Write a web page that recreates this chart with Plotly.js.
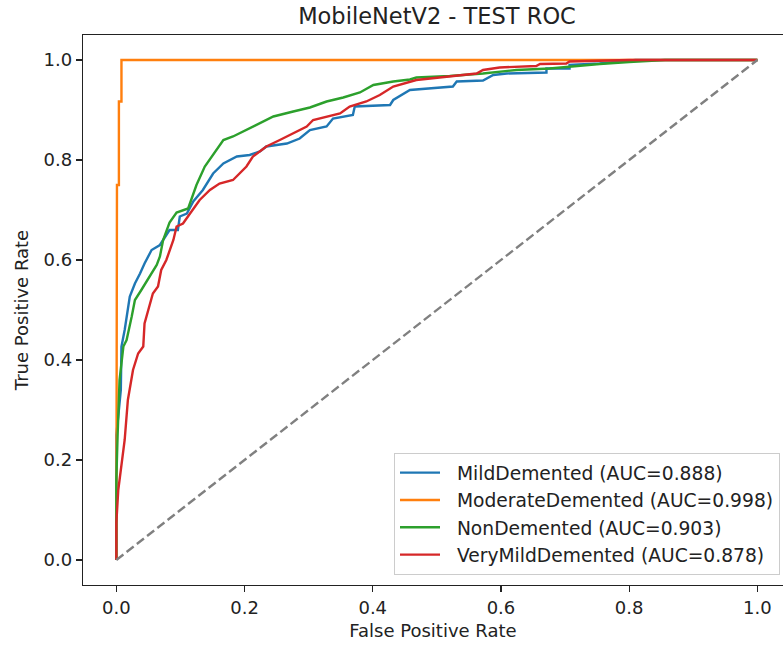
<!DOCTYPE html>
<html>
<head>
<meta charset="utf-8">
<script src="https://cdn.plot.ly/plotly-3.0.1.min.js"></script>
<style>html,body{margin:0;padding:0;background:#fff;}</style>
</head>
<body>
<div id="chart" style="width:783px;height:648px;"></div>
<script>
const classNames = ["MildDemented", "ModerateDemented", "NonDemented", "VeryMildDemented"];
const aucValues = [0.888, 0.998, 0.903, 0.878];
const colors = ["#1f77b4", "#ff7f0e", "#2ca02c", "#d62728"];

const fprMild = [0,0,0.003,0.007,0.008,0.013,0.021,0.029,0.037,0.044,0.055,0.068,0.073,0.083,0.096,0.099,0.110,0.120,0.135,0.151,0.167,0.188,0.208,0.224,0.234,0.266,0.286,0.302,0.328,0.338,0.369,0.372,0.427,0.432,0.458,0.489,0.525,0.531,0.572,0.588,0.609,0.671,0.671,0.707,0.707,0.754,0.81,1];
const tprMild = [0,0.25,0.287,0.34,0.427,0.46,0.527,0.553,0.573,0.593,0.62,0.63,0.64,0.66,0.66,0.687,0.693,0.717,0.74,0.773,0.793,0.807,0.81,0.817,0.827,0.833,0.843,0.86,0.867,0.883,0.89,0.907,0.91,0.92,0.94,0.943,0.947,0.957,0.959,0.97,0.973,0.975,0.983,0.983,0.99,0.993,1.0,1];

const fprModerate = [0,0,0.001,0.001,0.004,0.004,0.008,0.008,1];
const tprModerate = [0,0.667,0.667,0.75,0.75,0.917,0.917,1.0,1];

const fprNon = [0,0,0.002,0.003,0.005,0.011,0.016,0.024,0.029,0.039,0.052,0.063,0.068,0.073,0.083,0.094,0.112,0.125,0.138,0.156,0.167,0.182,0.203,0.224,0.245,0.276,0.302,0.328,0.354,0.380,0.401,0.432,0.458,0.468,0.520,0.572,0.624,0.676,0.728,0.754,0.80,0.856,1];
const tprNon = [0,0.16,0.25,0.29,0.36,0.427,0.44,0.487,0.52,0.54,0.567,0.59,0.607,0.64,0.675,0.695,0.703,0.75,0.787,0.82,0.84,0.847,0.86,0.873,0.887,0.897,0.905,0.917,0.925,0.935,0.95,0.957,0.961,0.965,0.968,0.973,0.98,0.983,0.99,0.992,0.996,1.0,1];

const fprVeryMild = [0,0,0.003,0.008,0.013,0.018,0.026,0.034,0.042,0.044,0.050,0.057,0.065,0.070,0.078,0.089,0.094,0.104,0.115,0.130,0.146,0.161,0.182,0.203,0.213,0.234,0.255,0.276,0.297,0.307,0.328,0.349,0.364,0.390,0.411,0.432,0.468,0.520,0.562,0.572,0.598,0.655,0.661,0.702,0.707,0.80,1];
const tprVeryMild = [0,0.074,0.14,0.193,0.24,0.32,0.38,0.413,0.427,0.473,0.50,0.533,0.547,0.58,0.60,0.64,0.667,0.673,0.693,0.72,0.74,0.753,0.76,0.787,0.807,0.827,0.84,0.853,0.867,0.88,0.887,0.893,0.907,0.917,0.93,0.947,0.96,0.967,0.973,0.98,0.985,0.988,0.992,0.993,0.997,1.0,1];

const chanceX = [0, 1];
const chanceY = [0, 1];
const tickVals = [0, 0.2, 0.4, 0.6, 0.8, 1.0];
const tickText = ["0.0", "0.2", "0.4", "0.6", "0.8", "1.0"];

const fprs = [fprMild, fprModerate, fprNon, fprVeryMild];
const tprs = [tprMild, tprModerate, tprNon, tprVeryMild];

const font = "DejaVu Sans, Verdana, sans-serif";
const traces = classNames.map((name, i) => ({
  x: fprs[i], y: tprs[i], type: "scatter", mode: "lines",
  name: "\u00A0\u00A0" + name + " (AUC=" + aucValues[i].toFixed(3) + ")",
  legendgroup: "g" + i,
  line: {color: colors[i], width: 2.4}
}));
traces.push({
  x: chanceX, y: chanceY, type: "scatter", mode: "lines", showlegend: false,
  line: {color: "#808080", width: 2.4, dash: "9px,4px"}
});

const axisCommon = {
  showgrid: false, zeroline: false, showline: true, linecolor: "#222", linewidth: 1.3,
  ticks: "outside", ticklen: 6, tickwidth: 1.3, tickcolor: "#222",
  tickfont: {family: font, size: 18, color: "#222"},
  tickvals: tickVals, ticktext: tickText
};

const layout = {
  width: 783, height: 648,
  margin: {l: 83, r: 0, t: 35, b: 63},
  paper_bgcolor: "#fff", plot_bgcolor: "#fff",
  title: {text: "MobileNetV2 - TEST ROC", font: {family: font, size: 22.5, color: "#222"},
          x: 437/783, xanchor: "center", xref: "container", y: 1 - 16/648, yanchor: "middle"},
  xaxis: Object.assign({}, axisCommon, {
    range: [-0.052, 1.040], mirror: true,
    title: {text: "False Positive Rate", font: {family: font, size: 18, color: "#222"}, standoff: 7}
  }),
  yaxis: Object.assign({}, axisCommon, {
    range: [-0.05, 1.05], mirror: false,
    title: {text: "True Positive Rate", font: {family: font, size: 18, color: "#222"}, standoff: 10}
  }),
  legend: {
    x: (780 - 83) / 700, y: (585 - 575) / 550, xanchor: "right", yanchor: "bottom",
    bgcolor: "rgba(255,255,255,0.8)", bordercolor: "#cccccc", borderwidth: 1,
    font: {family: font, size: 18.7, color: "#222"}, tracegroupgap: 0, itemwidth: 40
  },
  showlegend: true
};

Plotly.newPlot("chart", traces, layout, {displayModeBar: false, staticPlot: true});
</script>
</body>
</html>
